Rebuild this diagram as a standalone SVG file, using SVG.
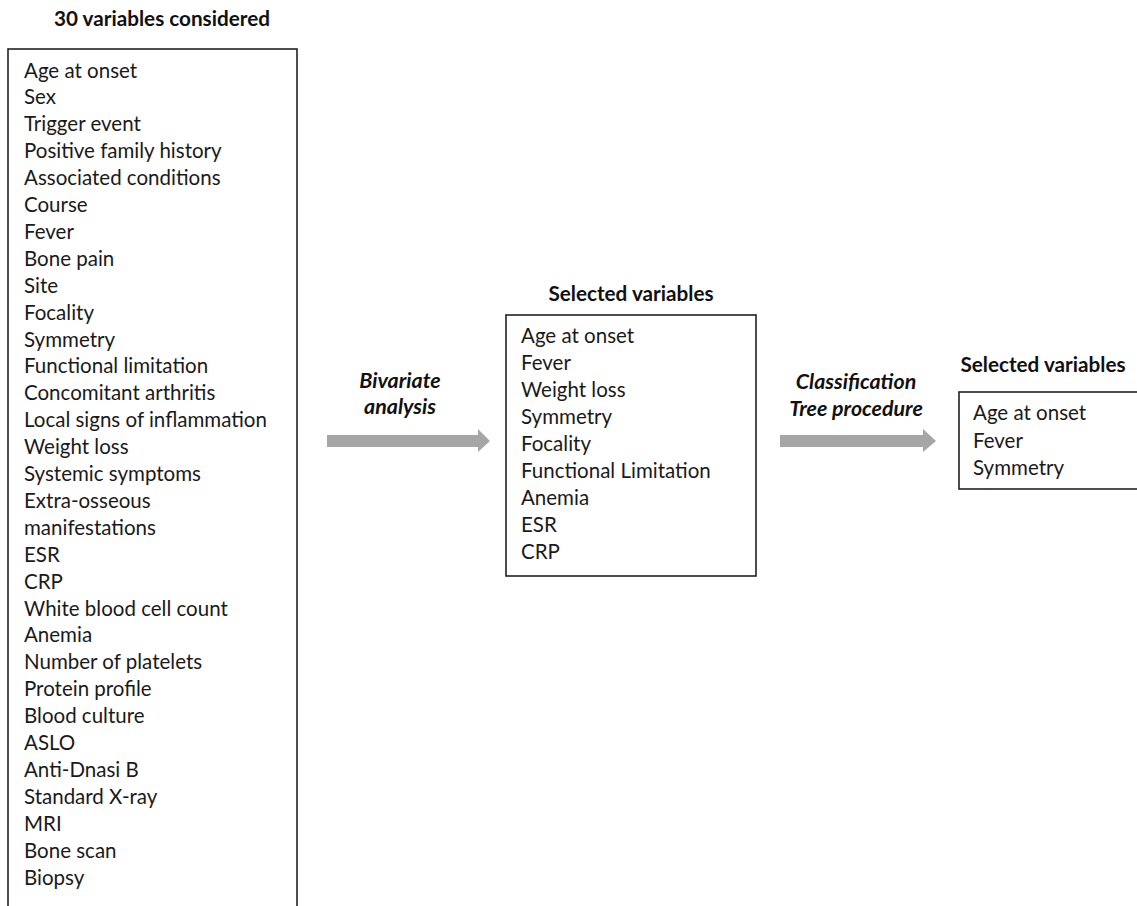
<svg xmlns="http://www.w3.org/2000/svg" width="1137" height="906" viewBox="0 0 1137 906">
<style>
.t{font-family:Lato,"Open Sans","Liberation Sans",sans-serif;font-size:20.5px;fill:#1a1a1a}
.h{font-family:Lato,"Open Sans","Liberation Sans",sans-serif;font-size:20.7px;font-weight:bold;fill:#111;text-anchor:middle}
.l{font-family:Lato,"Open Sans","Liberation Sans",sans-serif;font-size:21.4px;font-weight:bold;font-style:italic;fill:#111;text-anchor:middle}
.box{fill:#fff;stroke:#222;stroke-width:1.6}
.arr{fill:#a6a6a6}
</style>
<rect width="1137" height="906" fill="#fff"/>
<g id="all-variables">
<text class="h" x="162" y="26">30 variables considered</text>
<rect class="box" x="8" y="49" width="289" height="870"/>
<text class="t" x="24" y="77.5">Age at onset</text>
<text class="t" x="24" y="104.4">Sex</text>
<text class="t" x="24" y="131.3">Trigger event</text>
<text class="t" x="24" y="158.2">Positive family history</text>
<text class="t" x="24" y="185.1">Associated conditions</text>
<text class="t" x="24" y="212">Course</text>
<text class="t" x="24" y="238.9">Fever</text>
<text class="t" x="24" y="265.8">Bone pain</text>
<text class="t" x="24" y="292.7">Site</text>
<text class="t" x="24" y="319.6">Focality</text>
<text class="t" x="24" y="346.5">Symmetry</text>
<text class="t" x="24" y="373.4">Functional limitation</text>
<text class="t" x="24" y="400.3">Concomitant arthritis</text>
<text class="t" x="24" y="427.2">Local signs of inflammation</text>
<text class="t" x="24" y="454.1">Weight loss</text>
<text class="t" x="24" y="481">Systemic symptoms</text>
<text class="t" x="24" y="507.9">Extra-osseous</text>
<text class="t" x="24" y="534.8">manifestations</text>
<text class="t" x="24" y="561.7">ESR</text>
<text class="t" x="24" y="588.6">CRP</text>
<text class="t" x="24" y="615.5">White blood cell count</text>
<text class="t" x="24" y="642.4">Anemia</text>
<text class="t" x="24" y="669.3">Number of platelets</text>
<text class="t" x="24" y="696.2">Protein profile</text>
<text class="t" x="24" y="723.1">Blood culture</text>
<text class="t" x="24" y="750">ASLO</text>
<text class="t" x="24" y="776.9">Anti-Dnasi B</text>
<text class="t" x="24" y="803.8">Standard X-ray</text>
<text class="t" x="24" y="830.7">MRI</text>
<text class="t" x="24" y="857.6">Bone scan</text>
<text class="t" x="24" y="884.5">Biopsy</text>
</g>
<g id="selected-1">
<text class="h" x="631" y="301">Selected variables</text>
<rect class="box" x="506" y="315" width="250" height="261"/>
<text class="t" x="521" y="343">Age at onset</text>
<text class="t" x="521" y="370">Fever</text>
<text class="t" x="521" y="397">Weight loss</text>
<text class="t" x="521" y="424">Symmetry</text>
<text class="t" x="521" y="451">Focality</text>
<text class="t" x="521" y="478">Functional  Limitation</text>
<text class="t" x="521" y="505">Anemia</text>
<text class="t" x="521" y="532">ESR</text>
<text class="t" x="521" y="559">CRP</text>
</g>
<g id="selected-2">
<text class="h" x="1043" y="372">Selected variables</text>
<rect class="box" x="959" y="392" width="190" height="97"/>
<text class="t" x="973" y="420">Age at onset</text>
<text class="t" x="973" y="447.5">Fever</text>
<text class="t" x="973" y="475">Symmetry</text>
</g>
<g id="connectors">
<text class="l" x="400" y="388">Bivariate</text>
<text class="l" x="400" y="414">analysis</text>
<polygon class="arr" points="327,435 478,435 478,429 490,441 478,452 478,447 327,447"/>
<text class="l" x="856" y="389">Classification</text>
<text class="l" x="856" y="416">Tree procedure</text>
<polygon class="arr" points="780,435 923,435 923,429 936,441 923,452 923,447 780,447"/>
</g>
</svg>
